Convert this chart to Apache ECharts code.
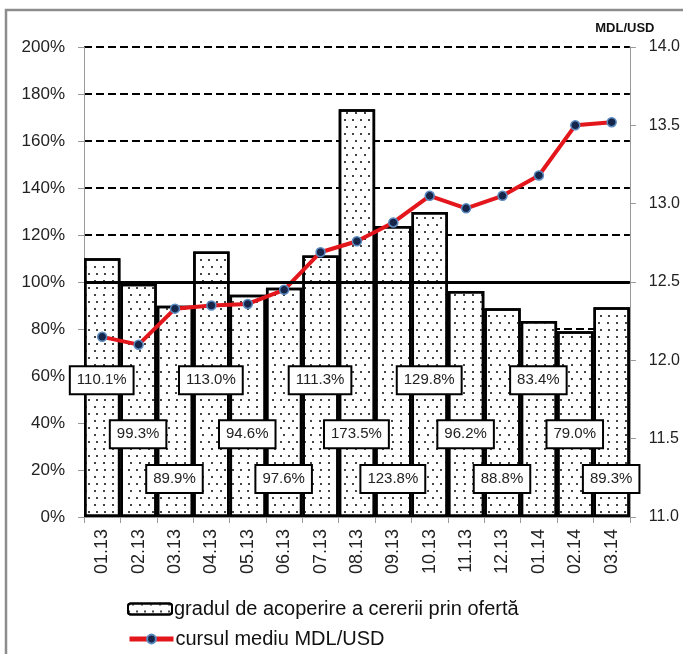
<!DOCTYPE html>
<html>
<head>
<meta charset="utf-8">
<script src="https://cdn.jsdelivr.net/npm/echarts@6/dist/echarts.min.js"></script>
<style>
  html, body { margin: 0; padding: 0; background: #fff; }
  #chart { width: 683px; height: 654px; }
</style>
</head>
<body>
<div id="chart"></div>
<script>
// luni
const months = ['01.13', '02.13', '03.13', '04.13', '05.13', '06.13', '07.13', '08.13',
  '09.13', '10.13', '11.13', '12.13', '01.14', '02.14', '03.14'];
// gradul de acoperire a cererii prin oferta, %
const coverage = [110.1, 99.3, 89.9, 113.0, 94.6, 97.6, 111.3, 173.5,
  123.8, 129.8, 96.2, 88.8, 83.4, 79.0, 89.3];
// cursul mediu MDL/USD
const rate = [12.15, 12.10, 12.33, 12.35, 12.36, 12.45, 12.69, 12.76,
  12.88, 13.05, 12.97, 13.05, 13.18, 13.50, 13.52];

const barName = 'gradul de acoperire a cererii prin ofertă';
const lineName = 'cursul mediu MDL/USD';

// etichetele stau pe trei niveluri (in % pe axa stanga)
const labelLevels = [58, 35, 16];
const labelPoints = months.map((m, i) => [i, labelLevels[i % 3]]);

const font = 'Liberation Sans, Arial, sans-serif';
const legendText = { fontFamily: 'Liberation Sans Narrow, Arial Narrow, Liberation Sans, sans-serif', fontSize: 20, color: '#111', padding: [0, 0, 0, -3] };
const chart = echarts.init(document.getElementById('chart'));

chart.setOption({
  animation: false,
  backgroundColor: '#fff',
  graphic: [{
    type: 'rect',
    shape: { x: 6, y: 10, width: 720, height: 700 },
    style: { fill: 'none', stroke: '#8c8c8c', lineWidth: 2.5 },
    z: 100
  }],
  grid: { left: 84, right: 52, top: 47, bottom: 137 },
  legend: [{
    left: 122,
    top: 594,
    itemWidth: 44,
    itemHeight: 11,
    data: [barName],
    textStyle: legendText
  }, {
    left: 122,
    top: 624,
    itemWidth: 44,
    itemHeight: 11,
    data: [{ name: lineName, lineStyle: { width: 5 } }],
    textStyle: legendText
  }],
  xAxis: {
    type: 'category',
    data: months,
    boundaryGap: true,
    axisLine: { lineStyle: { color: '#999', width: 1 } },
    axisTick: { show: true, length: 6, lineStyle: { color: '#999' } },
    axisLabel: { rotate: 90, fontFamily: font, fontSize: 18, color: '#222', margin: 12 }
  },
  yAxis: [{
    type: 'value',
    min: 0,
    max: 200,
    interval: 20,
    axisLine: { show: true, lineStyle: { color: '#999' } },
    axisTick: { show: true, length: 6, lineStyle: { color: '#999' } },
    axisLabel: { formatter: '{value}%', fontFamily: font, fontSize: 17, color: '#222', margin: 19 },
    splitLine: { show: true, lineStyle: { color: '#000', width: 2, type: [8, 4] } }
  }, {
    type: 'value',
    min: 11,
    max: 14,
    interval: 0.5,
    position: 'right',
    name: 'MDL/USD',
    nameLocation: 'end',
    nameGap: 12,
    nameTextStyle: { fontFamily: font, fontSize: 13, fontWeight: 'bold', color: '#111', align: 'center', padding: [0, 10, 0, 0] },
    axisLine: { show: true, lineStyle: { color: '#999' } },
    axisTick: { show: true, length: 6, lineStyle: { color: '#999' } },
    axisLabel: { formatter: v => v.toFixed(1), fontFamily: font, fontSize: 16, color: '#222', margin: 19 },
    splitLine: { show: false }
  }],
  series: [{
    name: barName,
    type: 'bar',
    data: coverage,
    barCategoryGap: '0%',
    itemStyle: {
      color: '#fff',
      borderColor: '#000',
      borderWidth: 2.5,
      decal: {
        symbol: 'rect',
        symbolSize: 1,
        color: '#444',
        dashArrayX: [[1.2, 5.8], [0, 3.5, 1.2, 2.3]],
        dashArrayY: [1.2, 4.8]
      }
    },
    markLine: {
      silent: true,
      symbol: 'none',
      label: { show: false },
      lineStyle: { color: '#000', width: 3, type: 'solid' },
      data: [{ yAxis: 100 }]
    },
    z: 2
  }, {
    name: lineName,
    type: 'line',
    yAxisIndex: 1,
    data: rate,
    symbol: 'circle',
    symbolSize: 9,
    lineStyle: { color: '#e3161c', width: 4 },
    itemStyle: { color: '#16264a', borderColor: '#5a8ac0', borderWidth: 1.5 },
    z: 4
  }, {
    name: 'etichete',
    type: 'scatter',
    data: labelPoints,
    symbolSize: 1,
    itemStyle: { opacity: 0 },
    silent: true,
    label: {
      show: true,
      position: [0, 0],
      align: 'center',
      verticalAlign: 'middle',
      formatter: p => coverage[p.dataIndex].toFixed(1) + '%',
      fontFamily: font,
      fontSize: 15,
      color: '#222',
      textBorderWidth: 0,
      opacity: 1,
      backgroundColor: '#fff',
      borderColor: '#000',
      borderWidth: 2,
      padding: [6, 6, 5, 6]
    },
    z: 6
  }]
});
</script>
</body>
</html>
